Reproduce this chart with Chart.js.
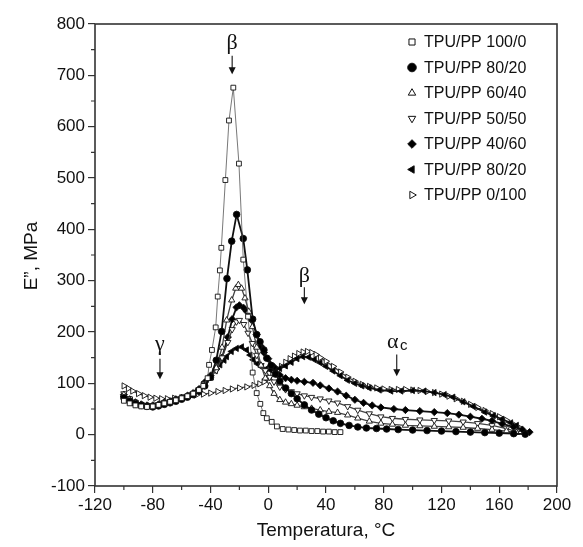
<!DOCTYPE html>
<html lang="pt">
<head>
<meta charset="UTF-8">
<title>E'' x Temperatura</title>
<script src="https://cdn.jsdelivr.net/npm/chart.js"></script>
<style>
    body { margin: 0; background: #fff; }
    #box { width: 583px; height: 547px; }
</style>
</head>
<body>
<div id="box"><canvas id="myChart" width="583" height="547"></canvas></div>
<script>
// series names as printed in the legend
var names = ['TPU/PP 100/0', 'TPU/PP 80/20', 'TPU/PP 60/40', 'TPU/PP 50/50', 'TPU/PP 40/60', 'TPU/PP 80/20', 'TPU/PP 0/100'];

// TPU/PP 100/0 (open squares)
var tA = [-100,-96,-92,-88,-84,-80,-76,-72,-68,-64,-60,-56,-52,-48,-45,-42,-41,-39,-36.4,-35,-33.5,-32.5,-29.7,-27.2,-24.2,-20.3,-17.3,-14,-10.8,-8,-5.5,-3.4,-1,2.4,6,10,14,18,22,26,30,34,38,42,46,50];
var eA = [66,61,57,55,54,55,58,61,64,67,71,75,80,87,95,110,136,165,209,269,320,364,496,612,676,528,341,230,121,81,60,42,32,25,16,11,10,9,8,8,7,7,6,6,5,5];

// TPU/PP 80/20 (filled circles)
var tB = [-100,-96,-92,-88,-84,-80,-76,-72,-68,-64,-60,-56,-52,-48,-44,-40,-36,-32.3,-28.6,-25.3,-21.9,-17.3,-14.5,-10.8,-8,-5.7,-3,-1,2,5,8,12,16,20,25,30,35,40,45,50,56,62,68,75,82,90,100,110,120,130,140,150,160,170,178];
var eB = [72,65,60,57,55,54,56,59,62,65,69,73,78,85,95,112,145,201,304,377,429,382,321,225,195,181,165,149,135,118,104,91,80,70,58,48,40,33,27,22,18,15,13,12,11,10,9,8,7,6,5,4,3,2,1];

// TPU/PP 60/40 (open triangles)
var tC = [-100,-96,-92,-88,-84,-80,-76,-72,-68,-64,-60,-56,-52,-48,-44,-40,-36,-32,-28.8,-25.3,-22.5,-20.7,-18.5,-16.1,-13.5,-11,-8,-5,-2,1,4,8,12,16,20,25,30,36,42,48,55,62,70,78,86,95,105,115,125,135,145,155,165,172];
var eC = [78,68,62,58,56,56,58,61,64,67,70,74,79,86,96,110,130,170,223,262,285,292,285,266,240,210,170,135,110,95,80,68,63,60,57,54,51,48,45,43,38,32,26,22,20,18,17,16,15,14,12,10,7,4];

// TPU/PP 50/50 (open inverted triangles)
var tD = [-100,-96,-92,-88,-84,-80,-76,-72,-68,-64,-60,-56,-52,-48,-44,-40,-36,-32,-28,-25,-22,-20,-17,-14,-11,-8,-5,-2,1,4,8,12,16,20,25,30,36,42,48,55,62,70,78,86,95,105,115,125,135,145,155,165,172];
var eD = [80,70,63,59,57,57,59,62,65,68,71,75,80,88,100,112,125,150,180,205,220,223,215,198,178,155,135,125,112,103,93,88,84,80,76,73,70,66,62,55,48,41,35,32,30,29,28,27,25,22,18,12,6];

// TPU/PP 40/60 (filled diamonds)
var tE = [-100,-96,-92,-88,-84,-80,-76,-72,-68,-64,-60,-56,-52,-48,-44,-40,-36,-32,-28,-25,-22,-20,-17,-14.9,-11.5,-8,-5,-3,0,4,8,12,16,20,25,31,36,42,48,54,60,66,72,78,87,95,105,115,124,132,140,148,155,162,170,176,181];
var eE = [78,69,63,59,57,57,59,62,65,69,72,76,81,89,102,115,128,150,190,225,248,252,247,240,223,195,172,160,148,132,116,110,107,105,103,101,96,90,84,76,68,62,57,53,50,48,46,44,42,39,35,31,27,21,15,10,5];

// TPU/PP 80/20 (filled left triangles)
var tF = [-100,-96,-92,-88,-84,-80,-76,-72,-68,-64,-60,-56,-52,-48,-44,-40,-36.5,-33.4,-30.5,-28.8,-25.5,-22,-18.4,-15,-12.5,-10.4,-7.5,-4.6,-1.5,1.5,5,8,12,16,20,24,28,32,36,40,45,50,55,60,65,70,77,85,92,100,108,115,122,128,135,142,150,156,162,168,172];
var eF = [75,68,62,58,56,56,58,61,64,68,72,76,81,88,98,112,125,136,145,152,162,168,171,165,155,146,138,132,128,126,126,129,134,141,148,152,151,146,140,133,124,115,106,100,95,91,87,85,85,86,85,82,78,73,64,55,44,37,30,23,18];

// TPU/PP 0/100 (open right triangles)
var tG = [-100,-97,-94,-90,-86,-82,-78,-74,-70,-65,-60,-55,-50,-45,-40,-35,-30,-25,-20,-15,-10,-6,-3,0,3,6,9,12,15,18,21,24,27,30,33,36,40,45,50,55,60,65,70,75,80,85,90,95,100,105,110,115,120,125,130,135,140,145,150,155,160,165,170,175];
var eG = [95,90,85,80,76,73,71,70,70,71,72,74,77,79,81,84,86,89,91,93,96,99,103,110,117,125,133,141,148,153,158,161,162,160,156,150,143,133,122,112,104,98,94,91,89,88,88,88,87,86,84,82,79,75,70,65,59,53,47,41,35,28,20,12];

// axis ticks
var xTicks = [-120, -80, -40, 0, 40, 80, 120, 160, 200];
var yTicks = [-100, 0, 100, 200, 300, 400, 500, 600, 700, 800];

function pts(t, e) {
    return t.map(function (x, i) { return { x: x, y: e[i] }; });
}

var styles = [
    { pointStyle: 'rect', rotation: 0, fill: '#fff', r: 3.4, lw: 0.8, lc: '#555' },
    { pointStyle: 'circle', rotation: 0, fill: '#000', r: 3.3, lw: 1.8, lc: '#111' },
    { pointStyle: 'triangle', rotation: 0, fill: '#fff', r: 3.6, lw: 1.3, lc: '#444' },
    { pointStyle: 'triangle', rotation: 180, fill: '#fff', r: 3.6, lw: 1.3, lc: '#444' },
    { pointStyle: 'rectRot', rotation: 0, fill: '#000', r: 3.6, lw: 1.8, lc: '#111' },
    { pointStyle: 'triangle', rotation: 270, fill: '#000', r: 3.6, lw: 1.8, lc: '#111' },
    { pointStyle: 'triangle', rotation: 90, fill: '#fff', r: 3.6, lw: 1.3, lc: '#444' }
];
var series = [pts(tA, eA), pts(tB, eB), pts(tC, eC), pts(tD, eD), pts(tE, eE), pts(tF, eF), pts(tG, eG)];

var datasets = series.map(function (d, i) {
    var s = styles[i];
    return {
        label: names[i],
        data: d,
        borderColor: s.lc,
        borderWidth: s.lw,
        pointStyle: s.pointStyle,
        rotation: s.rotation,
        pointRadius: s.r,
        pointBackgroundColor: s.fill,
        pointBorderColor: '#111',
        pointBorderWidth: 0.9,
        fill: false,
        tension: 0
    };
});

// frame, minor ticks, titles, legend and annotations
var extras = {
    id: 'extras',
    afterDraw: function (chart) {
        var ctx = chart.ctx, a = chart.chartArea;
        var xs = chart.scales.x, ys = chart.scales.y;
        ctx.save();
        ctx.strokeStyle = '#333';
        ctx.lineWidth = 1.6;
        ctx.strokeRect(a.left, a.top, a.right - a.left, a.bottom - a.top);

        // minor ticks
        ctx.lineWidth = 1.2;
        ctx.beginPath();
        for (var v = -100; v < 200; v += 40) {
            var px = xs.getPixelForValue(v);
            ctx.moveTo(px, a.bottom); ctx.lineTo(px, a.bottom + 4);
        }
        for (var w = -50; w < 800; w += 100) {
            var py = ys.getPixelForValue(w);
            ctx.moveTo(a.left, py); ctx.lineTo(a.left - 4, py);
        }
        ctx.stroke();

        // axis titles
        ctx.fillStyle = '#111';
        ctx.font = '19px "Liberation Sans", Arial, sans-serif';
        ctx.textAlign = 'center';
        ctx.textBaseline = 'middle';
        ctx.fillText('Temperatura, °C', (a.left + a.right) / 2, 531);
        ctx.save();
        ctx.translate(32, 256);
        ctx.rotate(-Math.PI / 2);
        ctx.fillText('E”, MPa', 0, 0);
        ctx.restore();

        // legend
        ctx.font = '16px "Liberation Sans", Arial, sans-serif';
        ctx.textAlign = 'left';
        names.forEach(function (n, i) {
            var y = 42 + i * 25.5;
            var s = styles[i];
            ctx.fillStyle = s.fill;
            ctx.strokeStyle = '#111';
            ctx.lineWidth = 1;
            Chart.helpers.drawPoint(ctx, { pointStyle: s.pointStyle, rotation: s.rotation, radius: 4.3, borderWidth: 1 }, 412, y);
            ctx.fillStyle = '#111';
            ctx.fillText(n, 424, y + 1);
        });

        // peak annotations with arrows
        var notes = [
            { t: 'β', x: -25, y: 762, from: 738, to: 702 },
            { t: 'γ', x: -75, y: 176, from: 148, to: 108 },
            { t: 'β', x: 25, y: 309, from: 287, to: 254 },
            { t: 'α', sub: 'c', x: 89, y: 181, from: 156, to: 114 }
        ];
        notes.forEach(function (nt) {
            var px = xs.getPixelForValue(nt.x);
            var ty = ys.getPixelForValue(nt.y);
            ctx.fillStyle = '#111';
            ctx.font = '22px "Liberation Serif", "DejaVu Serif", serif';
            ctx.textAlign = 'center';
            if (nt.sub) {
                ctx.fillText(nt.t, px - 4, ty);
                ctx.font = '15px "Liberation Sans", Arial, sans-serif';
                ctx.fillText(nt.sub, px + 7, ty + 4);
            } else {
                ctx.fillText(nt.t, px, ty);
            }
            var y1 = ys.getPixelForValue(nt.from), y2 = ys.getPixelForValue(nt.to);
            ctx.strokeStyle = '#111';
            ctx.lineWidth = 1.1;
            ctx.beginPath();
            ctx.moveTo(px, y1); ctx.lineTo(px, y2 - 4);
            ctx.stroke();
            ctx.beginPath();
            ctx.moveTo(px - 3.5, y2 - 7); ctx.lineTo(px + 3.5, y2 - 7); ctx.lineTo(px, y2);
            ctx.closePath();
            ctx.fill();
        });
        ctx.restore();
    }
};

var ctx = document.getElementById('myChart').getContext('2d');
var myChart = new Chart(ctx, {
    type: 'line',
    data: { datasets: datasets },
    options: {
        responsive: false,
        animation: false,
        devicePixelRatio: 1,
        layout: { padding: { top: 24, right: 26, left: 0, bottom: 0 } },
        plugins: {
            legend: { display: false },
            tooltip: { enabled: false }
        },
        scales: {
            x: {
                type: 'linear',
                min: -120, max: 200,
                afterBuildTicks: function (s) { s.ticks = xTicks.map(function (v) { return { value: v }; }); },
                afterFit: function (s) { s.height = 61; },
                grid: { drawOnChartArea: false, drawTicks: true, tickLength: 7, color: '#333', lineWidth: 1.2 },
                border: { display: false },
                ticks: { padding: 2, color: '#111', maxRotation: 0, font: { family: '"Liberation Sans", Arial, sans-serif', size: 17 } }
            },
            y: {
                type: 'linear',
                min: -100, max: 800,
                afterBuildTicks: function (s) { s.ticks = yTicks.map(function (v) { return { value: v }; }); },
                afterFit: function (s) { s.width = 95; },
                grid: { drawOnChartArea: false, drawTicks: true, tickLength: 7, color: '#333', lineWidth: 1.2 },
                border: { display: false },
                ticks: { padding: 3, color: '#111', font: { family: '"Liberation Sans", Arial, sans-serif', size: 17 } }
            }
        }
    },
    plugins: [extras]
});
</script>
</body>
</html>
